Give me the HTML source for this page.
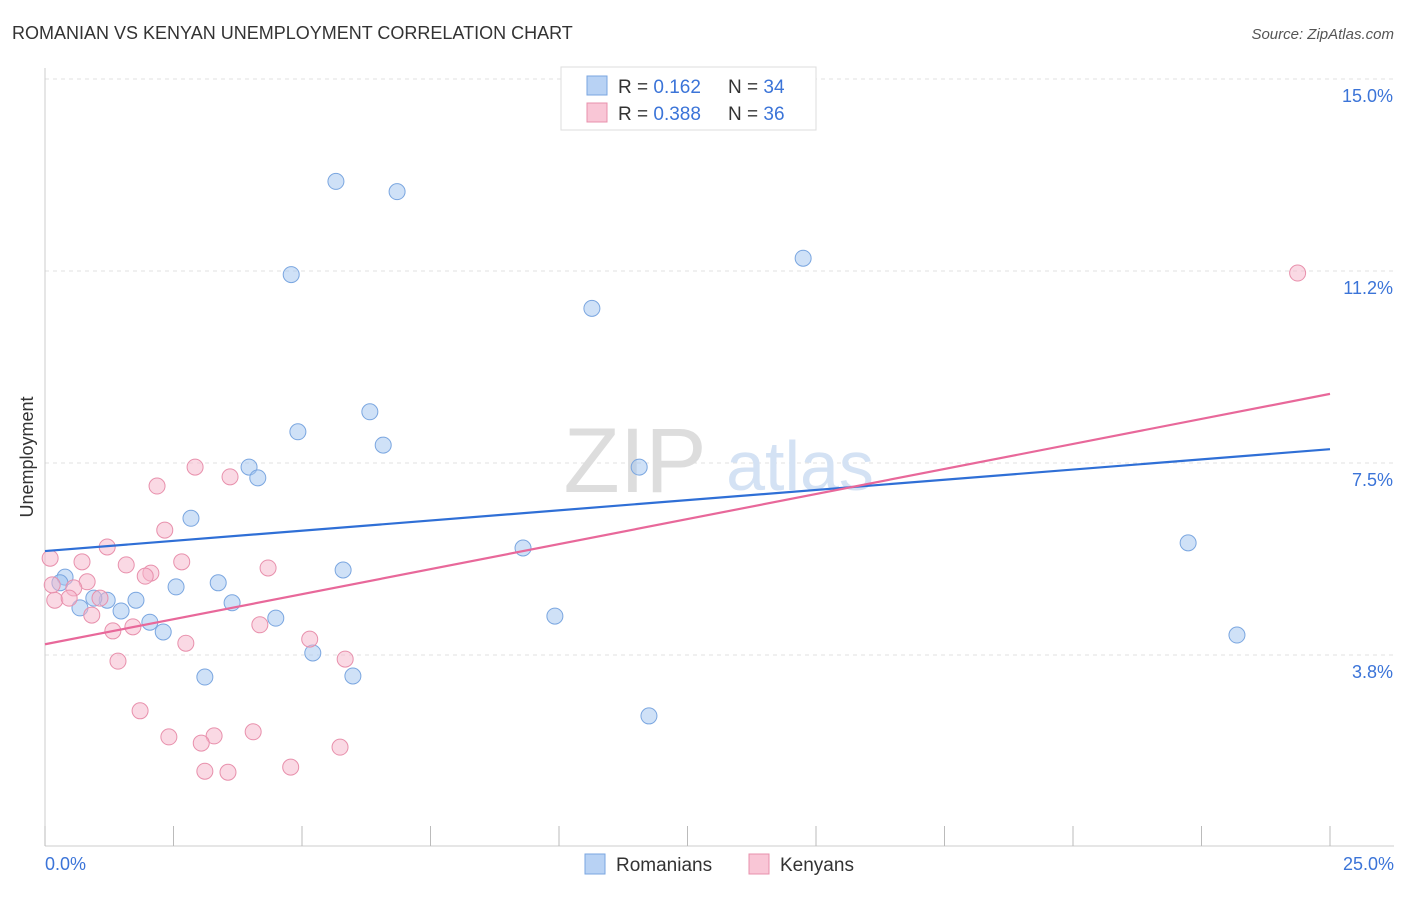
<!DOCTYPE html>
<html><head><meta charset="utf-8">
<style>
body{margin:0;background:#fff;font-family:"Liberation Sans",sans-serif;}
svg text{font-family:"Liberation Sans",sans-serif;}
</style></head>
<body>
<svg id="chart" width="1406" height="892" xmlns="http://www.w3.org/2000/svg">
<text x="12" y="39" font-size="18" fill="#333">ROMANIAN VS KENYAN UNEMPLOYMENT CORRELATION CHART</text>
<text x="1394" y="39" font-size="15" fill="#555" text-anchor="end" font-style="italic">Source: ZipAtlas.com</text>
<g id="grid"></g>
<g>
<text x="635" y="492" font-size="92" fill="#ddd" font-family="Liberation Serif" text-anchor="middle">ZIP</text>
<text x="800" y="490" font-size="70" fill="#d4e2f4" text-anchor="middle">atlas</text>
</g>
<line x1="45" y1="68" x2="45" y2="846" stroke="#ccc"/>
<line x1="45" y1="846" x2="1394" y2="846" stroke="#ccc"/>
<g id="xticks"></g>
<g id="ylabels"></g>
<text x="45" y="870" font-size="18" fill="#3b74d8">0.0%</text>
<text x="1394" y="870" font-size="18" fill="#3b74d8" text-anchor="end">25.0%</text>
<text transform="translate(33,457) rotate(-90)" font-size="18" fill="#333" text-anchor="middle">Unemployment</text>
<g id="pts"></g>
<g id="lines"></g>
<g>
<rect x="561" y="67" width="255" height="63" fill="#fff" stroke="#ddd"/>
<rect x="587" y="76" width="20" height="19" fill="#b8d2f4" stroke="#7aa6e0"/>
<rect x="587" y="103" width="20" height="19" fill="#f9c6d6" stroke="#e890ac"/>
<text x="618" y="93" font-size="19" fill="#333">R = <tspan fill="#3b74d8">0.162</tspan></text>
<text x="728" y="93" font-size="19" fill="#333">N = <tspan fill="#3b74d8">34</tspan></text>
<text x="618" y="120" font-size="19" fill="#333">R = <tspan fill="#3b74d8">0.388</tspan></text>
<text x="728" y="120" font-size="19" fill="#333">N = <tspan fill="#3b74d8">36</tspan></text>
</g>
<g>
<rect x="585" y="854" width="20" height="20" fill="#b8d2f4" stroke="#7aa6e0"/>
<text x="616" y="871" font-size="19" fill="#333">Romanians</text>
<rect x="749" y="854" width="20" height="20" fill="#f9c6d6" stroke="#e890ac"/>
<text x="780" y="871" font-size="19" fill="#333">Kenyans</text>
</g>
</svg>
<script>
const yTicks=[3.75,7.5,11.25,15];
const yTickLabels=["3.8%","7.5%","11.2%","15.0%"];
const xTicks=[0,2.5,5,7.5,10,12.5,15,17.5,20,22.5,25];
const romX=[5.66,6.85,4.79,14.75,10.64,6.32,4.92,6.58,3.97,4.14,11.56,2.84,9.3,22.24,5.8,3.37,2.55,3.64,1.77,1.21,0.95,1.48,0.68,4.49,9.92,2.04,2.3,23.19,5.21,5.99,3.11,11.75,0.39,0.29];
const romY=[13.0,12.8,11.18,11.5,10.52,8.5,8.11,7.85,7.42,7.21,7.42,6.42,5.84,5.94,5.41,5.16,5.08,4.77,4.82,4.82,4.86,4.61,4.67,4.47,4.51,4.39,4.2,4.14,3.79,3.34,3.32,2.56,5.27,5.16];
const kenX=[24.37,2.92,3.6,2.18,2.33,1.21,2.66,0.72,1.58,4.34,2.06,1.95,0.82,0.56,0.19,1.07,0.47,0.91,4.18,1.71,1.32,2.74,5.15,1.42,5.84,1.85,2.41,3.29,4.05,3.04,5.74,3.11,3.56,4.78,0.1,0.14];
const kenY=[11.21,7.42,7.23,7.05,6.19,5.86,5.57,5.57,5.51,5.45,5.35,5.29,5.18,5.06,4.82,4.86,4.86,4.53,4.34,4.30,4.22,3.98,4.06,3.63,3.67,2.66,2.15,2.17,2.25,2.03,1.95,1.48,1.46,1.56,5.64,5.12];
const trendX=[0,25];
const romTrend=[5.78,7.77];
const kenTrend=[3.96,8.85];
const sx=v=>45+v*1285/25;
const sy=v=>847-v*51.2;
const NS="http://www.w3.org/2000/svg";
function mk(t,a,p){const e=document.createElementNS(NS,t);for(const k in a)e.setAttribute(k,a[k]);p.appendChild(e);return e;}
const grid=document.getElementById('grid'),yl=document.getElementById('ylabels'),xt=document.getElementById('xticks');
yTicks.forEach((v,i)=>{
 const l=mk('line',{x1:45,x2:1394,y1:sy(v),y2:sy(v),stroke:'#e2e2e2','stroke-dasharray':'4,4'},grid);
 
 
 const t=mk('text',{x:1393,y:sy(v)+23,'font-size':18,fill:'#3b74d8','text-anchor':'end'},yl);
 t.textContent=yTickLabels[i];
 
 
});
xTicks.forEach(v=>{
 const l=mk('line',{x1:sx(v),x2:sx(v),y1:826,y2:846,stroke:'#bbb'},xt);
 
 
});
const pts=document.getElementById('pts');
romX.forEach((x,i)=>{
 const c=mk('circle',{cx:sx(x),cy:sy(romY[i]),r:8,fill:'rgba(160,196,240,0.5)',stroke:'#7aa6e0','stroke-width':1},pts);
 
 
});
kenX.forEach((x,i)=>{
 const c=mk('circle',{cx:sx(x),cy:sy(kenY[i]),r:8,fill:'rgba(245,180,202,0.5)',stroke:'#e890ac','stroke-width':1},pts);
 
 
});
const lines=document.getElementById('lines');
const bl=mk('line',{x1:sx(trendX[0]),y1:sy(romTrend[0]),x2:sx(trendX[1]),y2:sy(romTrend[1]),stroke:'#2f6fd6','stroke-width':2.2},lines);


const pl=mk('line',{x1:sx(trendX[0]),y1:sy(kenTrend[0]),x2:sx(trendX[1]),y2:sy(kenTrend[1]),stroke:'#e8689a','stroke-width':2.2},lines);


</script>
</body></html>
